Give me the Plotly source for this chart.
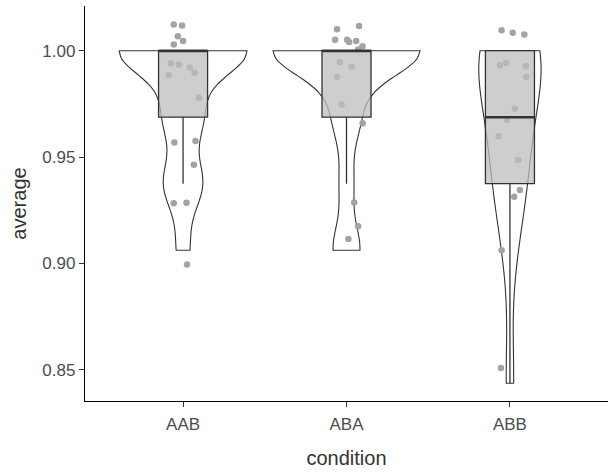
import numpy as np
import plotly.graph_objects as go

# ---- data ----
categories = ["AAB", "ABA", "ABB"]
positions = [1, 2, 3]

aab_values = [1.0] * 10 + [0.96875] * 3 + [0.9375] * 3 + [0.90625]
aab_jitter_x = [-0.057, -0.006, -0.032, 0.0, -0.057, -0.075, -0.026, 0.041, 0.071, -0.088,
                0.096, -0.053, 0.076, 0.066, -0.057, 0.021, 0.024]
aab_jitter_y = [0.0123, 0.0118, 0.0068, 0.0046, 0.0029, -0.0060, -0.0065, -0.0079, -0.0104, -0.0115,
                0.0091, -0.0119, -0.0112, 0.0089, -0.0092, -0.0090, -0.0067]

aba_values = [1.0] * 11 + [0.96875] * 2 + [0.9375] + [0.90625] * 2
aba_jitter_x = [-0.058, 0.077, -0.070, 0.004, 0.016, 0.059, 0.098, 0.071, -0.041, 0.031, -0.058,
                0.099, -0.030, 0.047, 0.071, 0.012]
aba_jitter_y = [0.0101, 0.0116, 0.0052, 0.0052, 0.0041, 0.0046, 0.0021, 0.0006, -0.0053, -0.0076, -0.0123,
                -0.0029, 0.0060, -0.0088, 0.0113, 0.0053]

abb_values = [1.0] * 7 + [0.96875] * 3 + [0.9375] * 3 + [0.90625] + [0.84375]
abb_jitter_x = [-0.051, 0.017, 0.088, -0.061, -0.024, 0.098, 0.099,
                -0.017, 0.030, -0.070, 0.051, 0.061, 0.026, -0.051, -0.055]
abb_jitter_y = [0.0096, 0.0084, 0.0076, -0.0068, -0.0057, -0.0073, -0.0123,
                -0.0013, 0.0040, -0.0090, 0.0111, -0.0030, -0.0061, 0.0, 0.0071]

groups = [
    (aab_values, aab_jitter_x, aab_jitter_y),
    (aba_values, aba_jitter_x, aba_jitter_y),
    (abb_values, abb_jitter_x, abb_jitter_y),
]

y_ticks = [0.85, 0.90, 0.95, 1.00]
y_range = [0.8354, 1.021]


def bw_nrd0(x):
    x = np.asarray(x, dtype=float)
    hi = np.std(x, ddof=1)
    q75, q25 = np.percentile(x, [75, 25])
    lo = min(hi, (q75 - q25) / 1.34)
    if lo == 0:
        lo = hi if hi else (abs(x[0]) if x[0] else 1.0)
    return 0.9 * lo * len(x) ** (-0.2)


def kde_max(x, bw):
    x = np.asarray(x, dtype=float)
    grid = np.linspace(x.min(), x.max(), 512)
    u = (grid[:, None] - x[None, :]) / bw
    dens = np.exp(-0.5 * u ** 2).sum(axis=1) / (len(x) * bw * np.sqrt(2 * np.pi))
    return dens.max()


# area scaling (as ggplot's scale = "area"): widest density gets width 0.9
bws = [bw_nrd0(g[0]) for g in groups]
peaks = [kde_max(g[0], bw) for g, bw in zip(groups, bws)]
violin_widths = [0.9 * p / max(peaks) for p in peaks]

fig = go.Figure()
LINE = "#333333"
BOX_W = 0.3
FONT = "Liberation Sans, Arial, sans-serif"

for pos, (vals, jx, jy), bw, vw in zip(positions, groups, bws, violin_widths):
    vals = np.asarray(vals, dtype=float)
    fig.add_trace(go.Violin(
        x=[pos] * len(vals), y=vals,
        bandwidth=bw, spanmode="hard",
        scalemode="width", width=vw,
        fillcolor="white", line=dict(color=LINE, width=1.1),
        points=False, box_visible=False, meanline_visible=False,
        showlegend=False, hoverinfo="skip",
    ))

# jittered points (under the boxes)
for pos, (vals, jx, jy) in zip(positions, groups):
    fig.add_trace(go.Scatter(
        x=pos + np.asarray(jx), y=np.asarray(vals) + np.asarray(jy),
        mode="markers",
        marker=dict(color="#A3A3A3", size=6.5, line=dict(width=0)),
        showlegend=False, hoverinfo="skip",
    ))

# boxplots on an overlaid axis so they are drawn above the points
for pos, (vals, jx, jy) in zip(positions, groups):
    vals = np.asarray(vals, dtype=float)
    q1, med, q3 = np.percentile(vals, [25, 50, 75])
    iqr = q3 - q1
    lower = vals[vals >= q1 - 1.5 * iqr].min()
    upper = vals[vals <= q3 + 1.5 * iqr].max()
    fig.add_trace(go.Box(
        x=[pos], q1=[q1], median=[med], q3=[q3],
        lowerfence=[lower], upperfence=[upper],
        width=BOX_W, whiskerwidth=0, boxpoints=False,
        fillcolor="rgba(190,190,190,0.75)", line=dict(color=LINE, width=1.3),
        yaxis="y2", showlegend=False, hoverinfo="skip",
    ))
    fig.add_trace(go.Scatter(
        x=[pos - BOX_W / 2, pos + BOX_W / 2], y=[med, med],
        mode="lines", line=dict(color=LINE, width=2.6),
        yaxis="y2", showlegend=False, hoverinfo="skip",
    ))

axis_font = dict(family=FONT, size=17, color="#4D4D4D")
title_font = dict(family=FONT, size=20, color="#333333")

fig.update_layout(
    width=611, height=474,
    margin=dict(l=85, r=3, t=6, b=73),
    plot_bgcolor="white", paper_bgcolor="white",
    showlegend=False,
    violinmode="overlay", boxmode="overlay",
    xaxis=dict(
        range=[0.4, 3.6], tickvals=positions, ticktext=categories,
        showline=True, linecolor="black", linewidth=1.3, mirror=False,
        ticks="outside", ticklen=5, tickwidth=1.3, tickcolor=LINE,
        ticklabelstandoff=2,
        showgrid=False, zeroline=False, tickfont=axis_font, automargin=False,
        title=dict(text="condition", font=title_font, standoff=18),
    ),
    yaxis=dict(
        range=y_range, tickvals=y_ticks, ticktext=[f"{v:.2f}" for v in y_ticks],
        showline=True, linecolor="black", linewidth=1.3,
        ticks="outside", ticklen=5, tickwidth=1.3, tickcolor=LINE,
        showgrid=False, zeroline=False, tickfont=axis_font, automargin=False,
        title=dict(text="average", font=title_font, standoff=10),
    ),
    yaxis2=dict(
        range=y_range, overlaying="y", visible=False,
        showgrid=False, zeroline=False,
    ),
)

fig.write_html("out.html", config={"displayModeBar": False},
               post_script="document.body.style.margin='0';")
